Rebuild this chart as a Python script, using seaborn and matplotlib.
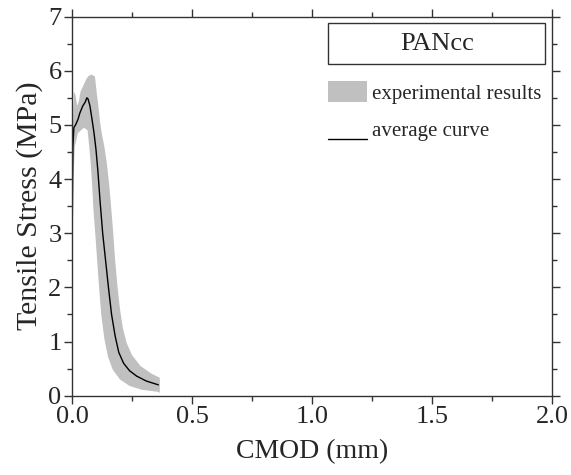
import numpy as np
import pandas as pd
import matplotlib
matplotlib.use("Agg")
import matplotlib.pyplot as plt
import seaborn as sns
from matplotlib.patches import Patch, Rectangle
from matplotlib.lines import Line2D
from matplotlib.legend_handler import HandlerBase
from matplotlib.ticker import MultipleLocator

# =====================
# DATA
# =====================
avg_cmod = [0.0, 0.004, 0.008, 0.015, 0.025, 0.033, 0.045, 0.055, 0.062, 0.067,
            0.075, 0.083, 0.092, 0.1, 0.108, 0.117, 0.128, 0.14, 0.152, 0.165,
            0.18, 0.195, 0.215, 0.24, 0.27, 0.31, 0.36]
avg_stress = [2.5, 4.6, 4.95, 5.0, 5.1, 5.22, 5.35, 5.42, 5.5, 5.48,
              5.35, 5.12, 4.85, 4.55, 4.15, 3.6, 3.0, 2.5, 2.0, 1.5,
              1.1, 0.8, 0.6, 0.46, 0.36, 0.27, 0.2]

# upper / right envelope of the experimental band
upper_cmod = [0.0, 0.002, 0.004, 0.008, 0.015, 0.022, 0.028, 0.036, 0.045, 0.058,
              0.068, 0.082, 0.096, 0.103, 0.11, 0.117, 0.124, 0.135, 0.145, 0.155,
              0.163, 0.172, 0.18, 0.19, 0.2, 0.212, 0.228, 0.25, 0.285, 0.33,
              0.366, 0.366]
upper_stress = [0.0, 3.0, 5.0, 5.62, 5.55, 5.35, 5.42, 5.62, 5.7, 5.83,
                5.9, 5.93, 5.89, 5.6, 5.35, 5.05, 4.85, 4.6, 4.3, 3.9,
                3.5, 3.0, 2.5, 2.0, 1.6, 1.25, 0.97, 0.75, 0.55, 0.41,
                0.33, 0.05]

# lower / left envelope of the experimental band
lower_cmod = [0.0, 0.003, 0.006, 0.012, 0.025, 0.05, 0.065, 0.072, 0.078, 0.084,
              0.09, 0.097, 0.105, 0.113, 0.122, 0.135, 0.15, 0.17, 0.2, 0.24,
              0.29, 0.36]
lower_stress = [0.0, 2.5, 4.0, 4.6, 4.85, 4.95, 4.9, 4.6, 4.3, 3.9,
                3.4, 3.0, 2.5, 2.0, 1.5, 1.05, 0.72, 0.48, 0.3, 0.18,
                0.11, 0.07]

x_ticks = [0.0, 0.5, 1.0, 1.5, 2.0]
y_ticks = [0, 1, 2, 3, 4, 5, 6, 7]


class BaselineLineHandler(HandlerBase):
    # legend line drawn along the bottom of the handle box, like an underline
    def create_artists(self, legend, orig_handle, xdescent, ydescent,
                       width, height, fontsize, trans):
        y0 = -ydescent + 0.05 * height
        line = Line2D([-xdescent, -xdescent + width], [y0, y0],
                      color=orig_handle.get_color(),
                      linewidth=orig_handle.get_linewidth(), transform=trans)
        return [line]


# =====================
# STYLE
# =====================
sns.set_theme(style="ticks")
plt.rcParams["font.family"] = ["Liberation Serif", "DejaVu Serif"]

fig = plt.figure(figsize=(5.71, 4.75), dpi=100)
ax = fig.add_axes([0.126, 0.167, 0.841, 0.798])

# experimental band
band_x = np.concatenate([upper_cmod, lower_cmod[::-1]])
band_y = np.concatenate([upper_stress, lower_stress[::-1]])
ax.fill(band_x, band_y, color="#c0c0c0", linewidth=0, zorder=1)

# average curve
avg_df = pd.DataFrame({"CMOD": avg_cmod, "Stress": avg_stress})
sns.lineplot(data=avg_df, x="CMOD", y="Stress", sort=False, color="black",
             linewidth=1.0, ax=ax, zorder=2)

# =====================
# AXES
# =====================
ax.set_xlim(0, 2.0)
ax.set_ylim(0, 7)
ax.set_xticks(x_ticks)
ax.set_xticklabels([f"{v:.1f}" for v in x_ticks])
ax.set_yticks(y_ticks)
ax.set_yticklabels([str(v) for v in y_ticks])
ax.xaxis.set_minor_locator(MultipleLocator(0.25))
ax.yaxis.set_minor_locator(MultipleLocator(0.5))
ax.tick_params(which="both", top=True, right=True, labelsize=19, color="#333333",
               width=1.0, pad=1.5)
ax.tick_params(which="major", length=6)
ax.tick_params(which="minor", length=3.5)
for s in ax.spines.values():
    s.set_color("#333333")
    s.set_linewidth(1.0)
    s.set_visible(True)
ax.set_xlabel("CMOD (mm)", fontsize=20, labelpad=8)
ax.set_ylabel("Tensile Stress (MPa)", fontsize=21.5, labelpad=4)

# =====================
# LEGEND
# =====================
ax.add_patch(Rectangle((0.533, 0.874), 0.452, 0.110, transform=ax.transAxes,
                       fill=False, edgecolor="#333333", linewidth=1.0, zorder=3))
ax.text(0.76, 0.929, "PANcc", transform=ax.transAxes, fontsize=19,
        ha="center", va="center")
handles = [Patch(facecolor="#c0c0c0", edgecolor="none"),
           Line2D([], [], color="black", linewidth=1.0)]
ax.legend(handles, ["experimental results", "average curve"],
          loc="upper left", bbox_to_anchor=(0.533, 0.830), frameon=False,
          fontsize=15, borderpad=0, borderaxespad=0, handlelength=1.9,
          handleheight=1.2, handletextpad=0.2, labelspacing=0.7,
          handler_map={Line2D: BaselineLineHandler()})

plt.savefig("out.png", dpi=100)
